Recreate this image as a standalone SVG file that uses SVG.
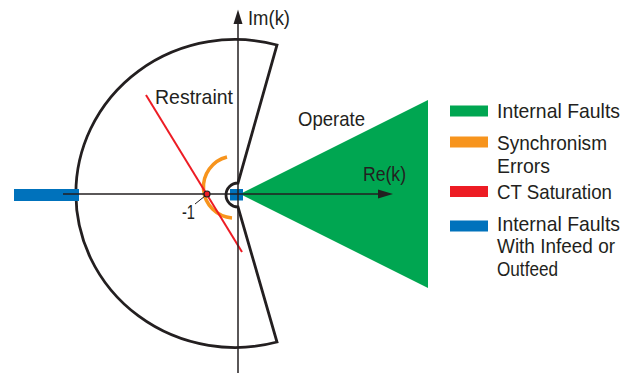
<svg xmlns="http://www.w3.org/2000/svg" width="634" height="373" viewBox="0 0 634 373">
<style>
text{font-family:"Liberation Sans",Arial,sans-serif;font-size:21px;fill:#231f20;}
.ax{stroke:#231f20;stroke-width:1.5;fill:none;}
.bd{stroke:#231f20;stroke-width:2.8;fill:none;stroke-linejoin:miter;}
</style>
<rect width="634" height="373" fill="#ffffff"/>
<g id="operate-region">
<polygon points="240,194 428,100 428,288" fill="#00a651"/>
</g>
<g id="restraint-boundary">
<path class="bd" d="M277,45 A159,154 0 1 0 277,342 L238,207 A12,12 0 0 1 238,183 Z"/>
</g>
<g id="infeed-bars">
<rect x="14" y="189" width="65" height="12" fill="#0072bc"/>
<rect x="230" y="189" width="13" height="11.5" fill="#0072bc"/>
</g>
<g id="sync-errors">
<path d="M227,157 A31,31 0 0 0 232,218" fill="none" stroke="#f7941d" stroke-width="3.5"/>
</g>
<g id="ct-saturation">
<line x1="146" y1="95" x2="242" y2="252" stroke="#ed1c24" stroke-width="2"/>
</g>
<g id="axes">
<line class="ax" x1="63" y1="194" x2="380" y2="194"/>
<polygon points="378,189.5 393,194 378,198.5" fill="#231f20"/>
<line class="ax" x1="238" y1="22" x2="238" y2="373"/>
<polygon points="233.5,24 238,9.5 242.5,24" fill="#231f20"/>
<text x="248" y="24.5" textLength="42" lengthAdjust="spacingAndGlyphs">Im(k)</text>
<text x="363" y="181" textLength="43" lengthAdjust="spacingAndGlyphs">Re(k)</text>
</g>
<g id="minus-one">
<line x1="195" y1="204" x2="205" y2="196" stroke="#231f20" stroke-width="1"/>
<circle cx="207" cy="194" r="3" fill="#ed1c24" stroke="#231f20" stroke-width="1.2"/>
<text x="182" y="218.5" textLength="13" lengthAdjust="spacingAndGlyphs">-1</text>
</g>
<g id="labels">
<text x="155" y="103.5" textLength="78" lengthAdjust="spacingAndGlyphs">Restraint</text>
<text x="298" y="126" textLength="67" lengthAdjust="spacingAndGlyphs">Operate</text>
</g>
<g id="legend">
<rect x="450" y="105.5" width="38" height="11" fill="#00a651"/>
<text x="497" y="117.5" textLength="123" lengthAdjust="spacingAndGlyphs">Internal Faults</text>
<rect x="450" y="136.5" width="38" height="11" fill="#f7941d"/>
<text x="497" y="150" textLength="110" lengthAdjust="spacingAndGlyphs">Synchronism</text>
<text x="497" y="173" textLength="53" lengthAdjust="spacingAndGlyphs">Errors</text>
<rect x="450" y="186" width="38" height="11" fill="#ed1c24"/>
<text x="497" y="198.5" textLength="115" lengthAdjust="spacingAndGlyphs">CT Saturation</text>
<rect x="450" y="220.5" width="38" height="11" fill="#0072bc"/>
<text x="497" y="230.5" textLength="123" lengthAdjust="spacingAndGlyphs">Internal Faults</text>
<text x="497" y="253" textLength="118" lengthAdjust="spacingAndGlyphs">With Infeed or</text>
<text x="497" y="276" textLength="61" lengthAdjust="spacingAndGlyphs">Outfeed</text>
</g>
</svg>
